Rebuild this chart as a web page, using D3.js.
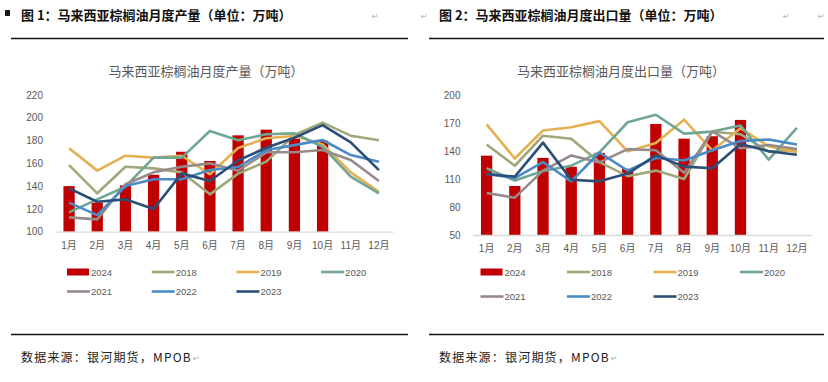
<!DOCTYPE html>
<html><head><meta charset="utf-8">
<script src="https://cdn.jsdelivr.net/npm/d3@7"></script>
<style>body{margin:0;background:#fff}svg{display:block}</style>
</head><body>
<svg id="c" width="828" height="382"></svg>
<script>
const months = ["1月","2月","3月","4月","5月","6月","7月","8月","9月","10月","11月","12月"];
const years = ["2024","2018","2019","2020","2021","2022","2023"];
const colors = {"2024":"#C00000","2018":"#9EA87A","2019":"#E3B052","2020":"#6FA694","2021":"#968A8A","2022":"#4A8BC6","2023":"#2A4E77"};

// 图1 产量
const prodTicks = [100,120,140,160,180,200,220];
const prod2024 = [140.0,125.6,140.6,150.0,170.2,162.1,184.6,189.6,181.6,180.0];
const prod2018 = [158.5,133.7,157.0,155.6,152.1,132.8,151.0,161.5,184.9,195.7,184.3,180.2];
const prod2019 = [173.2,153.6,166.7,165.0,166.7,150.4,173.5,182.0,184.0,176.7,152.1,135.1];
const prod2020 = [117.0,128.4,139.5,165.0,165.0,188.4,180.2,185.5,186.3,174.6,148.3,133.7];
const prod2021 = [112.6,110.8,141.6,152.1,157.0,160.0,153.5,169.7,169.7,171.7,162.9,144.5];
const prod2022 = [125.5,114.6,140.1,146.0,146.0,154.2,156.8,171.7,176.0,180.5,167.3,161.5];
const prod2023 = [138.0,126.3,128.4,119.9,151.2,144.5,162.5,173.7,182.5,193.6,178.4,154.1];

// 图2 出口量
const expTicks = [50,80,110,140,170,200];
const exp2024 = [135.0,102.5,132.6,123.2,138.0,121.0,169.0,153.2,155.8,173.3];
const exp2018 = [147.0,124.2,156.4,153.2,128.0,113.0,119.0,110.0,160.7,158.0,139.3,141.0];
const exp2019 = [168.5,132.0,162.0,165.5,172.0,139.6,148.5,173.5,140.6,164.4,145.0,138.8];
const exp2020 = [121.5,108.4,118.5,124.3,138.5,170.8,178.8,158.6,160.8,167.3,130.8,164.8];
const exp2021 = [95.0,90.0,119.0,135.3,127.8,142.0,140.8,116.8,161.0,142.9,146.5,142.2];
const exp2022 = [115.6,111.0,128.2,107.5,138.4,119.0,132.8,129.8,140.8,150.6,152.4,147.0];
const exp2023 = [115.2,112.5,149.0,109.2,107.5,115.8,135.3,123.3,121.5,147.5,139.8,136.0];

const svg = d3.select("#c");
const CJK = "'Noto Sans CJK SC','Noto Sans',sans-serif";
const NUM = "'Liberation Sans','Noto Sans CJK SC',sans-serif";

function drawChart(cfg){
  const g = svg.append("g");
  const x = d3.scaleBand().domain(months).range([cfg.x0, cfg.x1]).padding(0);
  const y = d3.scaleLinear().domain(cfg.domain).range([cfg.yBottom, cfg.yTop]);
  const bw = x.bandwidth()*0.4;
  g.append("text").attr("x", cfg.titleX).attr("y", cfg.titleY)
    .attr("text-anchor","middle").attr("font-family",CJK).attr("font-size",13)
    .attr("fill","#595959").text(cfg.title);
  const ya = d3.axisLeft(y).tickValues(cfg.ticks).tickSize(0).tickPadding(0);
  const yg = g.append("g").attr("transform",`translate(${cfg.x0-12},0)`).call(ya);
  yg.select(".domain").remove();
  yg.selectAll("text").attr("font-family",NUM).attr("font-size",10).attr("fill","#595959");
  g.selectAll("rect.bar").data(cfg.bars).enter().append("rect")
    .attr("x",(d,i)=>x(months[i])+x.bandwidth()/2-bw/2)
    .attr("width",bw)
    .attr("y",d=>y(d)).attr("height",d=>y(cfg.domain[0])-y(d))
    .attr("fill",colors["2024"]);
  const xa = d3.axisBottom(x).tickSize(0).tickPadding(10);
  const xg = g.append("g").attr("transform",`translate(0,${cfg.yBottom})`).call(xa);
  xg.select(".domain").attr("stroke","#d9d9d9").attr("stroke-width",1.3);
  xg.selectAll("text").attr("font-family",NUM).attr("font-size",10).attr("fill","#595959");
  const line = d3.line().x((d,i)=>x(months[i])+x.bandwidth()/2).y(d=>y(d));
  cfg.lines.forEach(([yr,vals])=>{
    g.append("path").datum(vals).attr("d",line).attr("fill","none")
      .attr("stroke",colors[yr]).attr("stroke-width",2.6).attr("stroke-linejoin","round");
  });
  years.forEach((yr,i)=>{
    const col = i<4 ? i : i-4;
    const row = i<4 ? 0 : 1;
    const lx = cfg.legX + col*cfg.legDX;
    const ly = cfg.legY[row];
    if(yr==="2024"){
      g.append("rect").attr("x",lx).attr("y",ly-3.5).attr("width",22).attr("height",7).attr("fill",colors[yr]);
    } else {
      g.append("line").attr("x1",lx).attr("x2",lx+23).attr("y1",ly).attr("y2",ly)
        .attr("stroke",colors[yr]).attr("stroke-width",2.6);
    }
    g.append("text").attr("x",lx+24).attr("y",ly+3.5).attr("font-family",NUM)
      .attr("font-size",9.5).attr("fill","#595959").text(yr);
  });
}

drawChart({x0:55,x1:393,yTop:95,yBottom:231.7,domain:[100,220],ticks:prodTicks,
  title:"马来西亚棕榈油月度产量（万吨）",titleX:206,titleY:76,bars:prod2024,
  lines:[["2018",prod2018],["2019",prod2019],["2020",prod2020],["2021",prod2021],["2022",prod2022],["2023",prod2023]],
  legX:67,legDX:84.7,legY:[272,291.5]});
drawChart({x0:472.5,x1:811,yTop:95,yBottom:235,domain:[50,200],ticks:expTicks,
  title:"马来西亚棕榈油月度出口量（万吨）",titleX:621,titleY:76,bars:exp2024,
  lines:[["2018",exp2018],["2019",exp2019],["2020",exp2020],["2021",exp2021],["2022",exp2022],["2023",exp2023]],
  legX:480.5,legDX:86.5,legY:[272,296.5]});

svg.append("rect").attr("x",5).attr("y",10).attr("width",5).attr("height",6).attr("fill","#1a1a1a");
[["图 1：马来西亚棕榈油月度产量（单位：万吨）",21],["图 2：马来西亚棕榈油月度出口量（单位：万吨）",439]].forEach(([t,x])=>{
  svg.append("text").attr("x",x).attr("y",20).attr("font-family",CJK).attr("font-weight",700)
    .attr("font-size",13).attr("fill","#111").text(t);
});
[[372,19],[421,19],[783,19],[818,19]].forEach(([x,y])=>{
  svg.append("text").attr("x",x).attr("y",y).attr("font-family","'DejaVu Sans'").attr("font-size",8)
    .attr("fill","#aaa").text("↵");
});
[[11,408],[429,824]].forEach(([a,b])=>{
  svg.append("line").attr("x1",a).attr("x2",b).attr("y1",38.5).attr("y2",38.5).attr("stroke","#111").attr("stroke-width",1.3);
  svg.append("line").attr("x1",a).attr("x2",b).attr("y1",334.5).attr("y2",334.5).attr("stroke","#111").attr("stroke-width",1.3);
});
[21,439].forEach(x=>{
  const t = svg.append("text").attr("x",x).attr("y",362).attr("font-family",CJK).attr("font-size",12)
    .attr("fill","#222").attr("letter-spacing",1.2).text("数据来源：银河期货，MPOB");
  const w = t.node().getComputedTextLength();
  svg.append("text").attr("x",x+w+1).attr("y",361).attr("font-family","'DejaVu Sans'").attr("font-size",8)
    .attr("fill","#aaa").text("↵");
});
</script>
</body></html>
